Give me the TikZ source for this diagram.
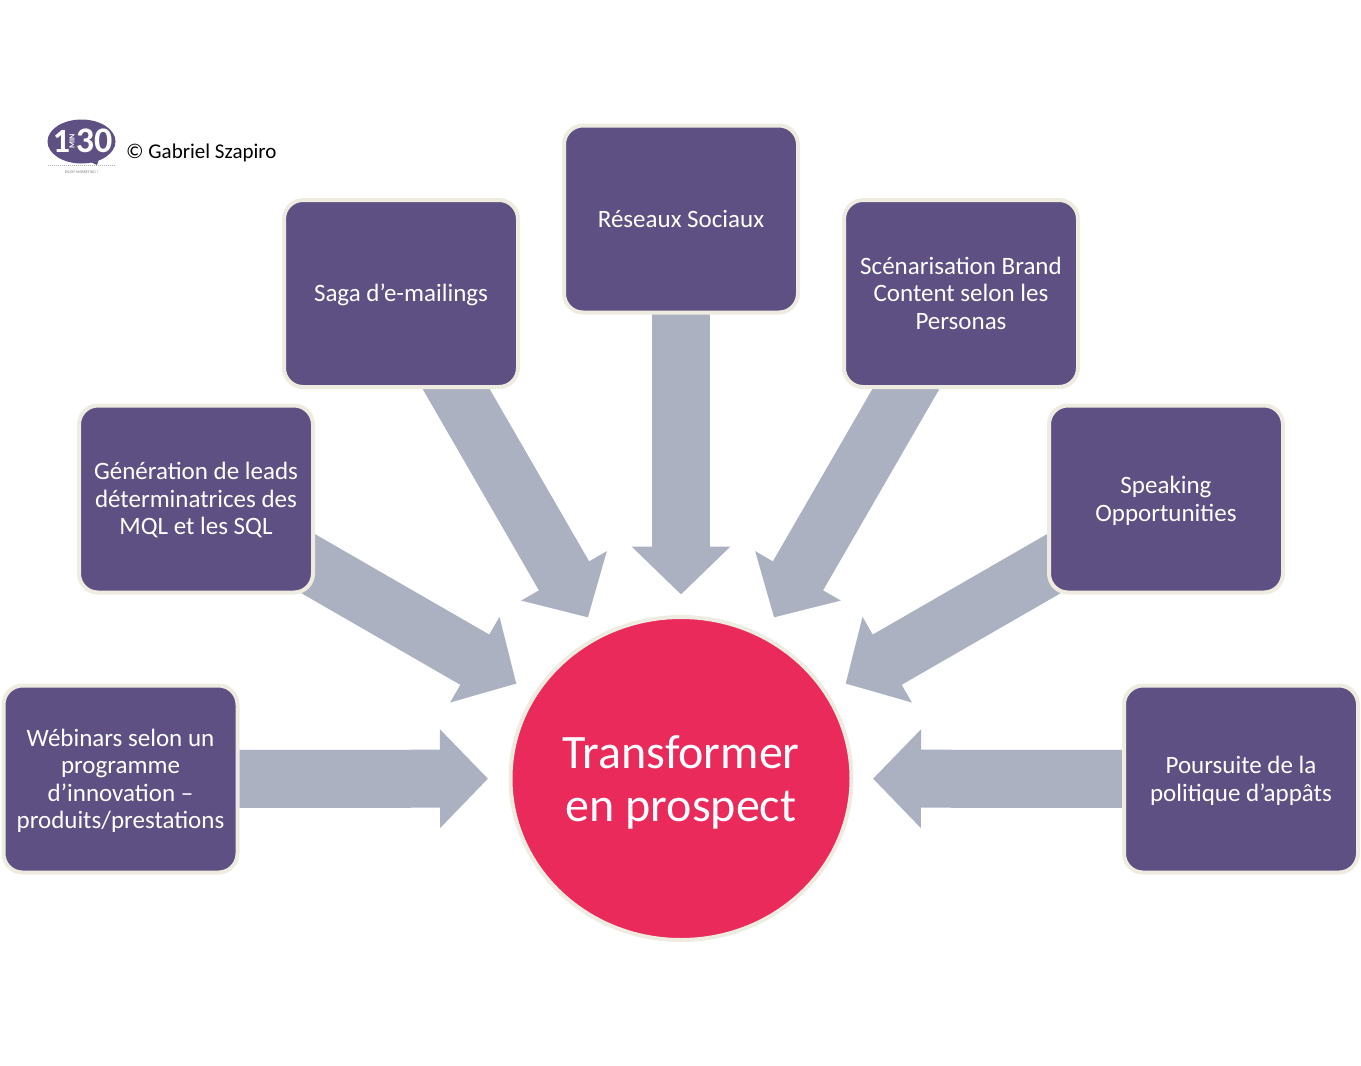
\documentclass[tikz,border=0pt]{standalone}
\usepackage{fontspec}
\setmainfont{Carlito}
\usetikzlibrary{arrows.meta,backgrounds,shapes.geometric}
\definecolor{boxpurple}{RGB}{95, 80, 132}
\definecolor{rimcream}{RGB}{238, 236, 225}
\definecolor{arrowgrey}{RGB}{171, 177, 192}
\definecolor{focusred}{RGB}{233, 42, 91}

\tikzset{
    actionbox/.style={draw=rimcream, line width=4pt, fill=boxpurple, rounded corners=19pt,
        minimum width=234pt, minimum height=187pt, inner sep=0pt, text=white, text width=230pt, align=flush center,
        font=\fontsize{25}{27.5}\selectfont, execute at begin node=\rule{0pt}{25pt}, execute at end node=\strut},
    blockarrow/.style={draw=arrowgrey, line width=58pt, -{Triangle[width=96pt,length=48pt]}}
}

\begin{document}
\begin{tikzpicture}[x=1pt, y=-1pt]
    \useasboundingbox (0,0) rectangle (1361,1066);

    % Logo
    \node[ellipse, fill=boxpurple, minimum width=68pt, minimum height=44pt, inner sep=0pt] (logo) at (81.5,141.5) {};
    \fill[boxpurple] (86,160) -- (97,165) -- (100,156) -- cycle;
    \node[text=white, font=\fontsize{34}{34}\bfseries\selectfont, inner sep=0pt] (logoone) at (61.5,141) {1};
    \node[text=white, rotate=90, font=\fontsize{8}{8}\bfseries\selectfont, inner sep=0pt] (logomin) at (72,141) {MIN};
    \node[text=white, font=\fontsize{36}{36}\bfseries\selectfont, inner sep=0pt] (logothirty) at (94,141) {30};
    \draw[gray!60, densely dotted, line width=1pt] (48,165) -- (115,165);
    \node[text=gray, font=\fontsize{4}{4}\selectfont] (logotag) at (81.5,172) {ENJOY MARKETING !};
    \node[font=\fontsize{21}{24}\selectfont, anchor=west, inner sep=0pt] (credit) at (126,152.5) {© Gabriel Szapiro};

    % Centre
    \node[ellipse, draw=rimcream, line width=4pt, fill=focusred, minimum width=341pt, minimum height=323pt, inner sep=0pt,
        text=white, text width=238pt, align=flush center, font=\fontsize{48}{53}\selectfont,
        execute at begin node=\rule{0pt}{40pt}] (focus) at (681,778.5) {Transformer\\en prospect};

    % Boxes
    \node[actionbox] (webinars) at (120.5,779) {Wébinars selon un\\programme\\d’innovation –\\produits/prestations};
    \node[actionbox] (leads) at (196,499) {Génération de leads\\déterminatrices des\\MQL et les SQL};
    \node[actionbox] (saga) at (401,293.5) {Saga d’e-mailings};
    \node[actionbox] (reseaux) at (681,219) {Réseaux Sociaux};
    \node[actionbox] (scenario) at (961,293.5) {Scénarisation Brand\\Content selon les\\Personas};
    \node[actionbox] (speaking) at (1166,499) {Speaking\\Opportunities};
    \node[actionbox] (poursuite) at (1241,779) {Poursuite de la\\politique d’appâts};

    % Arrows
    \begin{scope}[on background layer]
        \draw[blockarrow, shorten >=193pt] (webinars.center) -- (focus.center);
        \draw[blockarrow, shorten >=190pt] (leads.center) -- (focus.center);
        \draw[blockarrow, shorten >=186pt] (saga.center) -- (focus.center);
        \draw[blockarrow, shorten >=184pt] (reseaux.center) -- (focus.center);
        \draw[blockarrow, shorten >=186pt] (scenario.center) -- (focus.center);
        \draw[blockarrow, shorten >=190pt] (speaking.center) -- (focus.center);
        \draw[blockarrow, shorten >=192pt] (poursuite.center) -- (focus.center);
    \end{scope}
\end{tikzpicture}
\end{document}
